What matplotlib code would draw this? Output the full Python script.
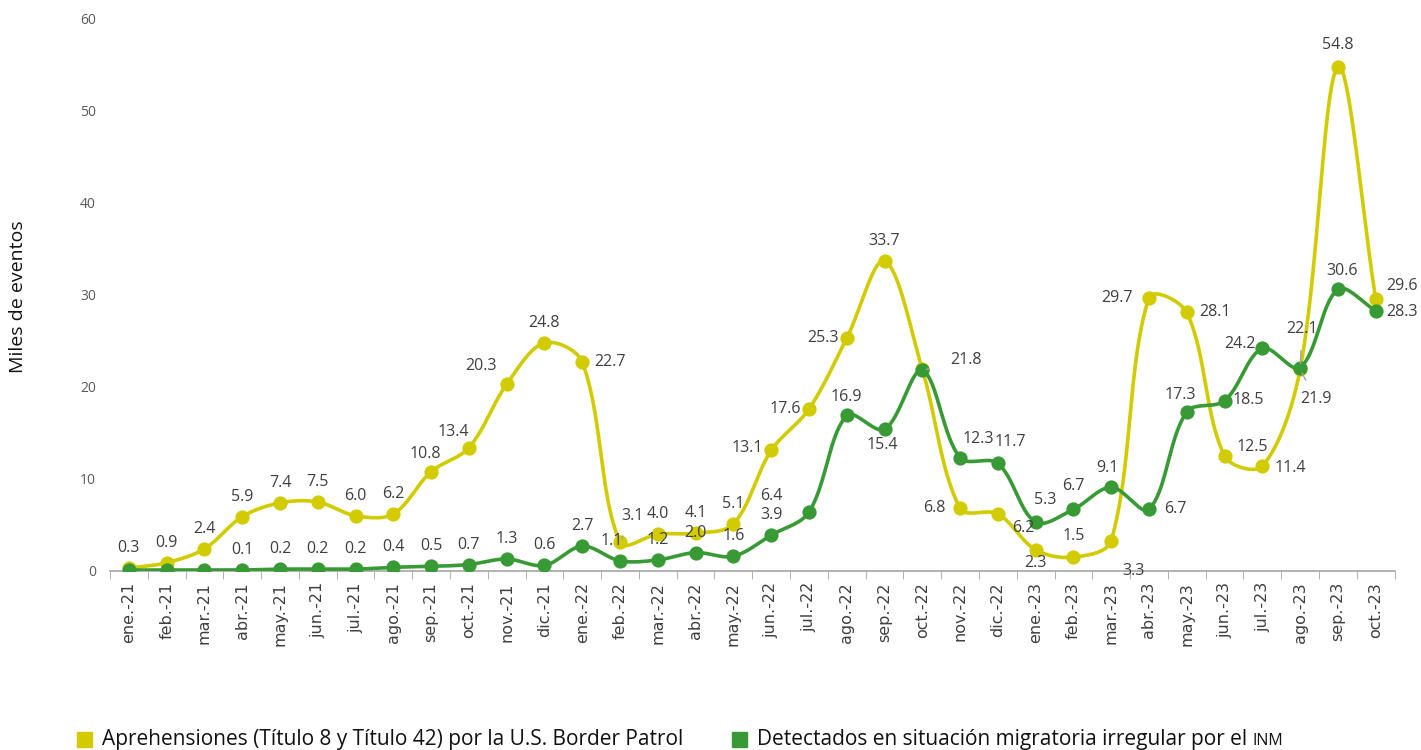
import numpy as np
import matplotlib
matplotlib.use("Agg")
import matplotlib.pyplot as plt

plt.rcParams['font.family'] = ['Open Sans', 'DejaVu Sans']

# datos (miles de eventos)
meses = ["ene.-21", "feb.-21", "mar.-21", "abr.-21", "may.-21", "jun.-21", "jul.-21", "ago.-21",
         "sep.-21", "oct.-21", "nov.-21", "dic.-21", "ene.-22", "feb.-22", "mar.-22", "abr.-22",
         "may.-22", "jun.-22", "jul.-22", "ago.-22", "sep.-22", "oct.-22", "nov.-22", "dic.-22",
         "ene.-23", "feb.-23", "mar.-23", "abr.-23", "may.-23", "jun.-23", "jul.-23", "ago.-23",
         "sep.-23", "oct.-23"]
aprehensiones = [0.3, 0.9, 2.4, 5.9, 7.4, 7.5, 6.0, 6.2, 10.8, 13.4, 20.3, 24.8, 22.7, 3.1, 4.0, 4.1,
                 5.1, 13.1, 17.6, 25.3, 33.7, 21.9, 6.8, 6.2, 2.3, 1.5, 3.3, 29.7, 28.1, 12.5, 11.4, 21.9,
                 54.8, 29.6]
detectados = [0.1, 0.1, 0.1, 0.1, 0.2, 0.2, 0.2, 0.4, 0.5, 0.7, 1.3, 0.6, 2.7, 1.1, 1.2, 2.0,
              1.6, 3.9, 6.4, 16.9, 15.4, 21.8, 12.3, 11.7, 5.3, 6.7, 9.1, 6.7, 17.3, 18.5, 24.2, 22.1,
              30.6, 28.3]

amarillo = "#D2CB00"
verde = "#389A34"
gris_txt = "#3F3F3F"

# escala aprox. en pixeles (para que el suavizado se parezca al de excel)
PX_X = 37.76
PX_Y = 9.2


def suavizar(y, n=40):
    x = np.arange(len(y), dtype=float) * PX_X
    y = np.asarray(y, dtype=float) * PX_Y
    P = np.column_stack([x, y])
    Pe = np.vstack([P[0], P, P[-1]])
    xs, ys = [], []
    t = np.linspace(0, 1, n)[:, None]
    for i in range(len(P) - 1):
        p0, p1, p2, p3 = Pe[i], Pe[i + 1], Pe[i + 2], Pe[i + 3]
        l0 = np.linalg.norm(p1 - p0)
        l1 = np.linalg.norm(p2 - p1)
        l2 = np.linalg.norm(p3 - p2)
        # tangentes proporcionales a la longitud de cada tramo
        c1 = p1 + (p2 - p0) * (l1 / (l0 + l1)) / 3 if l0 > 0 else p1 + (p2 - p1) / 3
        c2 = p2 - (p3 - p1) * (l1 / (l1 + l2)) / 3 if l2 > 0 else p2 - (p2 - p1) / 3
        b = ((1 - t) ** 3) * p1 + 3 * ((1 - t) ** 2) * t * c1 + 3 * (1 - t) * t ** 2 * c2 + t ** 3 * p2
        xs.append(b[:, 0] / PX_X)
        ys.append(b[:, 1] / PX_Y)
    return np.concatenate(xs), np.concatenate(ys)


fig = plt.figure(figsize=(14.21, 7.5), dpi=100)
ax = fig.add_axes([0.0774, 0.2387, 0.904, 0.736])

x = np.arange(len(meses))
sx, sy = suavizar(aprehensiones)
ax.plot(sx, sy, color=amarillo, lw=2.6, zorder=2, solid_capstyle='round')
ax.scatter(x, aprehensiones, s=105, color=amarillo, zorder=3, linewidths=0)
gx, gy = suavizar(detectados)
ax.plot(gx, gy, color=verde, lw=2.6, zorder=4, solid_capstyle='round')
ax.scatter(x, detectados, s=105, color=verde, zorder=5, linewidths=0)

ax.set_xlim(-0.5, len(meses) - 0.5)
ax.set_ylim(0, 60)
ax.set_yticks(range(0, 61, 10))
ax.tick_params(axis='y', length=0, pad=10, labelsize=10, labelcolor="#595959")
ax.set_xticks(x)
ax.set_xticklabels(meses, rotation=90, fontsize=11.5, color=gris_txt, family='DejaVu Sans')
ax.tick_params(axis='x', length=0, pad=8)
ax.set_xticks(np.arange(-0.5, len(meses), 1), minor=True)
ax.tick_params(axis='x', which='minor', length=6, color="#A6A6A6", direction='out')
for s in ['top', 'right', 'left']:
    ax.spines[s].set_visible(False)
ax.spines['bottom'].set_color("#A6A6A6")
ax.spines['bottom'].set_linewidth(1.2)
fig.text(18 / 1421, 1 - 297 / 750, "Miles de eventos", rotation=90, fontsize=14,
         color="#111111", ha='center', va='center')

# posicion de etiquetas (dx, dy en pixeles), None = sin etiqueta
pos_a = [(0, 20), (0, 20), (0, 20), (0, 20), (0, 20), (0, 20), (0, 20), (0, 20),
         (-6, 18), (-16, 16), (-26, 18), (0, 20), (28, 0), (0, 0), (0, 20), (0, 20),
         (0, 20), (-24, 2), (-24, 0), (-24, 0), (0, 20), None, (-26, 0), (25, -14),
         (0, -13), (0, 21), (22, -30), (-32, 0), (28, 0), (28, 9), (28, -2), (0, 0),
         (0, 22), (26, 13)]
pos_v = [None, None, None, (0, 20), (0, 20), (0, 20), (0, 20), (0, 20),
         (0, 20), (0, 20), (0, 20), (0, 20), (0, 20), (-8, 20), (0, 20), (0, 20),
         (0, 20), (0, 20), (-38, 16), (0, 18), (-2, -16), (0, 0), (18, 19), (12, 21),
         (10, 22), (0, 23), (-4, 19), (26, 0), (-6, 17), (24, 1), (-22, 4), (0, 0),
         (4, 18), (26, -1)]

lbl = dict(textcoords='offset pixels', ha='center', va='center', fontsize=11.5,
           color=gris_txt, zorder=6)
guia = dict(arrowstyle='-', color="#A6A6A6", lw=1, shrinkB=3)

for i, v in enumerate(aprehensiones):
    if pos_a[i] is None:
        continue
    if i == 13:
        ax.annotate(f"{v:.1f}", (i, v), xytext=(12, 26), arrowprops=dict(guia, shrinkA=7), **lbl)
    elif i == 31:
        ax.annotate(f"{v:.1f}", (i, v), xytext=(16, -30), arrowprops=dict(guia, shrinkA=7), **lbl)
    else:
        ax.annotate(f"{v:.1f}", (i, v), xytext=pos_a[i], **lbl)

for i, v in enumerate(detectados):
    if pos_v[i] is None:
        continue
    if i == 21:
        ax.annotate(f"{v:.1f}", (i, v), xytext=(44, 10), arrowprops=dict(guia, shrinkA=14), **lbl)
    elif i == 31:
        ax.annotate(f"{v:.1f}", (i, v), xytext=(2, 39), arrowprops=dict(guia, shrinkA=8), **lbl)
    else:
        ax.annotate(f"{v:.1f}", (i, v), xytext=pos_v[i], **lbl)

# leyenda
y_base = 1 - 745 / 750
fig.patches.append(plt.Rectangle((77 / 1421, 1 - 747 / 750), 15 / 1421, 15 / 750,
                                 transform=fig.transFigure, color=amarillo))
fig.text(102 / 1421, y_base, "Aprehensiones (Título 8 y Título 42) por la U.S. Border Patrol",
         fontsize=15, color="#111111", va='baseline')
fig.patches.append(plt.Rectangle((732 / 1421, 1 - 747 / 750), 15 / 1421, 15 / 750,
                                 transform=fig.transFigure, color=verde))
t2 = fig.text(757 / 1421, y_base, "Detectados en situación migratoria irregular por el ",
              fontsize=15, color="#111111", va='baseline')
# INM en versalitas
fig.canvas.draw()
bb = t2.get_window_extent()
fig.text(bb.x1 / 1421, y_base, "INM", fontsize=11.5, color="#111111", va='baseline')

fig.savefig("out.png", dpi=100)
